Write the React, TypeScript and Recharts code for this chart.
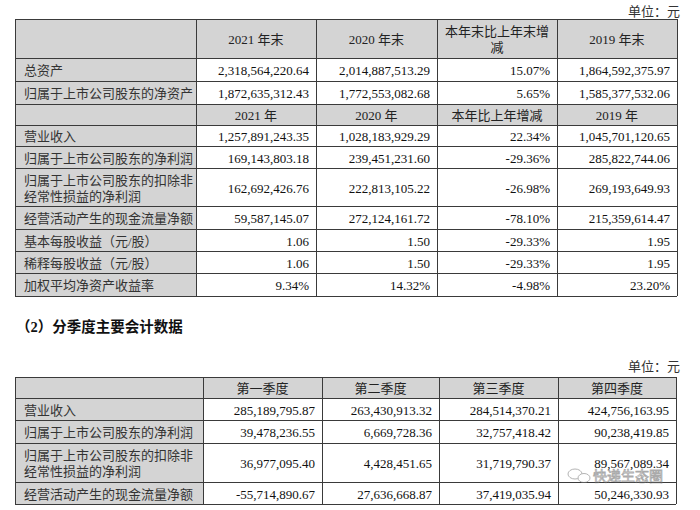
import React from 'react';
import { Surface, Layer, Rectangle, Text } from 'recharts';

// 主要会计数据 - year end balances
const yearEndHeaders = ['2021 年末', '2020 年末', '本年末比上年末增|减', '2019 年末'];
const yearEndLabels = ['总资产', '归属于上市公司股东的净资产'];
const yearEnd2021 = [2318564220.64, 1872635312.43];
const yearEnd2020 = [2014887513.29, 1772553082.68];
const yearEndChange = [15.07, 5.65];
const yearEnd2019 = [1864592375.97, 1585377532.06];

// full-year figures
const yearHeaders = ['2021 年', '2020 年', '本年比上年增减', '2019 年'];
const yearLabels = [
  '营业收入',
  '归属于上市公司股东的净利润',
  '归属于上市公司股东的扣除非|经常性损益的净利润',
  '经营活动产生的现金流量净额',
  '基本每股收益（元/股）',
  '稀释每股收益（元/股）',
  '加权平均净资产收益率',
];
const year2021 = [1257891243.35, 169143803.18, 162692426.76, 59587145.07, 1.06, 1.06, 9.34];
const year2020 = [1028183929.29, 239451231.6, 222813105.22, 272124161.72, 1.5, 1.5, 14.32];
const yearChange = [22.34, -29.36, -26.98, -78.1, -29.33, -29.33, -4.98];
const year2019 = [1045701120.65, 285822744.06, 269193649.93, 215359614.47, 1.95, 1.95, 23.2];
const percentLabel = '加权平均净资产收益率';

// 分季度主要会计数据
const quarterHeaders = ['第一季度', '第二季度', '第三季度', '第四季度'];
const quarterLabels = [
  '营业收入',
  '归属于上市公司股东的净利润',
  '归属于上市公司股东的扣除非|经常性损益的净利润',
  '经营活动产生的现金流量净额',
];
const q1 = [285189795.87, 39478236.55, 36977095.4, -55714890.67];
const q2 = [263430913.32, 6669728.36, 4428451.65, 27636668.87];
const q3 = [284514370.21, 32757418.42, 31719790.37, 37419035.94];
const q4 = [424756163.95, 90238419.85, 89567089.34, 50246330.93];

const FONT = "'Liberation Serif', 'Noto Sans CJK SC', serif";
const GRAY = '#d4d4d4';
const LINE = '#3a3a3a';

const money = (v: number) =>
  v.toLocaleString('en-US', { minimumFractionDigits: 2, maximumFractionDigits: 2 });
const pct = (v: number) => `${v.toFixed(2)}%`;

type Row = { header: boolean; cells: string[] };

const Lines = ({ text, x, cy, anchor, gap, size, color }: any) => {
  const parts = text.split('|');
  return (
    <>
      {parts.map((p: string, i: number) => (
        <Text
          key={i}
          x={x}
          y={cy + (i - (parts.length - 1) / 2) * gap}
          textAnchor={anchor}
          verticalAnchor="middle"
          fontFamily={FONT}
          fontSize={size}
          fill={color}
        >
          {p}
        </Text>
      ))}
    </>
  );
};

const Grid = ({ cols, rows, data }: { cols: number[]; rows: number[]; data: Row[] }) => {
  const left = cols[0];
  const right = cols[cols.length - 1];
  return (
    <Layer>
      {data.map((r, i) => (
        <Rectangle
          key={`bg${i}`}
          x={left}
          y={rows[i]}
          width={(r.header ? right : cols[1]) - left}
          height={rows[i + 1] - rows[i]}
          fill={GRAY}
        />
      ))}
      {rows.map((y, i) => (
        <line key={`h${i}`} x1={left} x2={right} y1={y + 0.5} y2={y + 0.5} stroke={LINE} />
      ))}
      {cols.map((x, i) => (
        <line key={`v${i}`} x1={x + 0.5} x2={x + 0.5} y1={rows[0]} y2={rows[rows.length - 1]} stroke={LINE} />
      ))}
      {data.map((r, i) => {
        const cy = (rows[i] + rows[i + 1]) / 2 + 1;
        return r.cells.map((c, j) => {
          if (!c) return null;
          if (r.header) {
            return (
              <Lines key={`t${i}-${j}`} text={c} x={(cols[j] + cols[j + 1]) / 2} cy={cy}
                anchor="middle" gap={16} size={13} color="#222" />
            );
          }
          if (j === 0) {
            return (
              <Lines key={`t${i}-${j}`} text={c} x={cols[0] + 9} cy={cy}
                anchor="start" gap={16} size={13} color="#333" />
            );
          }
          return (
            <Lines key={`t${i}-${j}`} text={c} x={cols[j + 1] - 7} cy={cy}
              anchor="end" gap={16} size={13} color="#111" />
          );
        });
      })}
    </Layer>
  );
};

const annualRows: Row[] = [
  { header: true, cells: ['', ...yearEndHeaders] },
  ...yearEndLabels.map((l, i) => ({
    header: false,
    cells: [l, money(yearEnd2021[i]), money(yearEnd2020[i]), pct(yearEndChange[i]), money(yearEnd2019[i])],
  })),
  { header: true, cells: ['', ...yearHeaders] },
  ...yearLabels.map((l, i) => {
    const f = l === percentLabel ? pct : money;
    return {
      header: false,
      cells: [l, f(year2021[i]), f(year2020[i]), pct(yearChange[i]), f(year2019[i])],
    };
  }),
];

const quarterRows: Row[] = [
  { header: true, cells: ['', ...quarterHeaders] },
  ...quarterLabels.map((l, i) => ({
    header: false,
    cells: [l, money(q1[i]), money(q2[i]), money(q3[i]), money(q4[i])],
  })),
];

const App = () => {
  return (
    <div style={{ position: 'absolute', left: 0, top: 0, background: '#fff' }}>
      <Surface width={700} height={510}>
        <rect x={0} y={0} width={700} height={510} fill="#fff" />
        <Text x={680} y={11} textAnchor="end" verticalAnchor="middle" fontFamily={FONT} fontSize={13} fill="#333">
          单位：元
        </Text>
        <Grid
          cols={[15, 196, 316, 437, 557, 677]}
          rows={[19, 58, 81, 104, 125, 146, 168, 206, 229, 251, 273, 296]}
          data={annualRows}
        />
        <Text x={16} y={327} verticalAnchor="middle" fontFamily={FONT} fontSize={14.5} fontWeight="bold" fill="#111">
          （2）分季度主要会计数据
        </Text>
        <Text x={680} y={366} textAnchor="end" verticalAnchor="middle" fontFamily={FONT} fontSize={13} fill="#333">
          单位：元
        </Text>
        <Grid
          cols={[15, 203, 322, 439, 558, 676]}
          rows={[377, 398, 420, 443, 482, 504]}
          data={quarterRows}
        />
        {/* watermark */}
        <g opacity={0.55}>
          <ellipse cx={575} cy={474} rx={7} ry={5} fill="none" stroke="#777" />
          <ellipse cx={584} cy={478} rx={6} ry={4.5} fill="#fff" stroke="#777" />
          <Text x={593} y={476} verticalAnchor="middle" fontFamily={FONT} fontSize={14}
            fill="#fff" stroke="#666" strokeWidth={0.8}>
            快递生态圈
          </Text>
        </g>
      </Surface>
    </div>
  );
};

export default App;
